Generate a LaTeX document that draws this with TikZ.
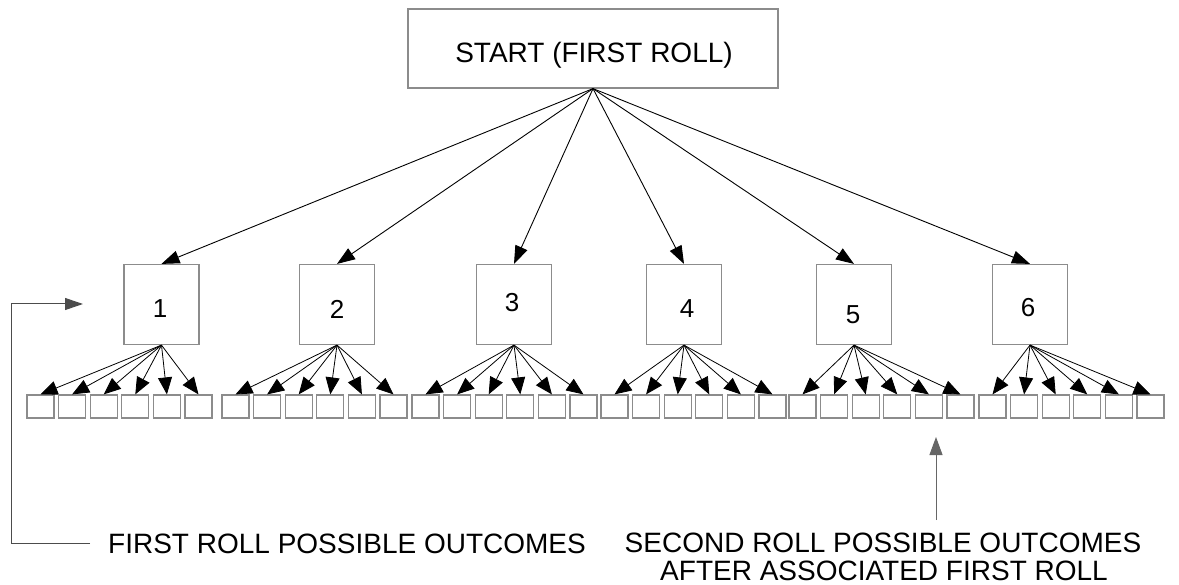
\documentclass[tikz,border=0pt]{standalone}
\usepackage{fontspec}
\setmainfont{Liberation Sans}
\usetikzlibrary{arrows.meta}
\begin{document}
\begin{tikzpicture}[x=1pt,y=-1pt,
  boxline/.style={draw=black!45, line width=1.2pt},
  rootbox/.style={boxline, minimum width=370pt, minimum height=79pt, inner sep=0pt},
  mid/.style={boxline, minimum width=75pt, minimum height=80pt, inner sep=0pt},
  leaf/.style={boxline, minimum width=27pt, minimum height=23pt, inner sep=0pt},
  link/.style={line width=0.9pt, black, arrows={-Triangle[length=18pt,width=13pt]}},
  sublink/.style={line width=0.8pt, black, arrows={-Triangle[length=17pt,width=14pt]}},
  note/.style={draw=black!70, line width=1pt},
  bigtext/.style={inner sep=0pt, font=\fontsize{28}{30}\selectfont},
  numtext/.style={inner sep=0pt, font=\fontsize{26}{28}\selectfont}]
\useasboundingbox (0,0) rectangle (1179,585);

% root of the tree
\node[rootbox] (root) at (593,48.5) {};
\node[bigtext, anchor=base] (roottext) at (594,63) {START (FIRST ROLL)};

% first-roll outcomes
\foreach \i/\cx/\tx/\ty in {1/161.5/160/309, 2/337/337/309, 3/514/512/303,
                            4/684/687/309, 5/854/853/315, 6/1030/1028/308} {
  \node[mid] (m\i) at (\cx,304.5) {};
  \node[numtext] (n\i) at (\tx,\ty) {\i};
  \draw[link] (root.south) -- (m\i.north);
}

% second-roll outcomes, six per first-roll box
\foreach \i/\gx in {1/27, 2/222, 3/412, 4/601, 5/789, 6/979} {
  \foreach \j in {1,...,6} {
    \node[leaf] (s\i-\j) at ({\gx+13.5+(\j-1)*31.6},406.5) {};
    \draw[sublink] (m\i.south) -- (s\i-\j.north);
  }
}

% annotation: first roll outcomes
\node[bigtext, anchor=base west] (firstlbl) at (108,553) {FIRST ROLL POSSIBLE OUTCOMES};
\coordinate (bend1) at (11,543);
\coordinate (bend2) at (11,304);
\coordinate (firsttip) at (83,304);
\coordinate (firstend) at (90,543);
\draw[note] (firstend) -- (bend1) -- (bend2);
\draw[note, arrows={-Triangle[length=18pt,width=12pt]}] (bend2) -- (firsttip);

% annotation: second roll outcomes
\node[bigtext, anchor=base] (seclbl1) at (883,552) {SECOND ROLL POSSIBLE OUTCOMES};
\node[bigtext, anchor=base] (seclbl2) at (884,580) {AFTER ASSOCIATED FIRST ROLL};
\coordinate (ptrbase) at (936,520);
\coordinate (ptrtip) at (936,437);
\draw[note, draw=black!60, arrows={-Triangle[length=18pt,width=13pt]}] (ptrbase) -- (ptrtip);
\end{tikzpicture}
\end{document}
